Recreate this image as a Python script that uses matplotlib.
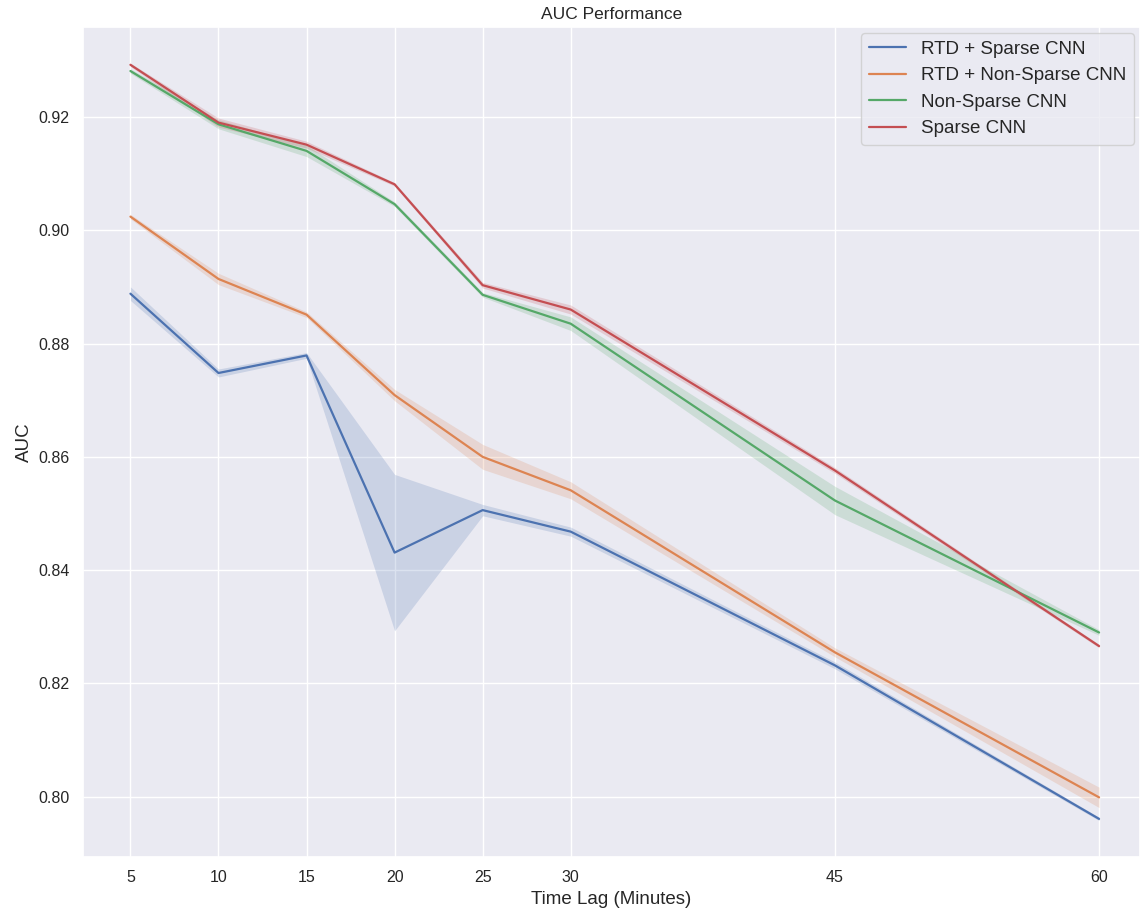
import matplotlib
matplotlib.use("Agg")
import matplotlib.pyplot as plt
import seaborn as sns

# dane
time_lag = [5, 10, 15, 20, 25, 30, 45, 60]

rtd_sparse = [0.8888, 0.8748, 0.8779, 0.8431, 0.8506, 0.8468, 0.8232, 0.7961]
rtd_sparse_err = [0.0012, 0.0007, 0.0005, 0.0138, 0.0010, 0.0008, 0.0006, 0.0003]

rtd_nonsparse = [0.9024, 0.8914, 0.8851, 0.8709, 0.8600, 0.8541, 0.8255, 0.7999]
rtd_nonsparse_err = [0.0004, 0.0010, 0.0005, 0.0010, 0.0022, 0.0015, 0.0008, 0.0018]

nonsparse = [0.9281, 0.9187, 0.9140, 0.9046, 0.8886, 0.8835, 0.8523, 0.8290]
nonsparse_err = [0.0004, 0.0008, 0.0010, 0.0004, 0.0004, 0.0012, 0.0025, 0.0005]

sparse = [0.9292, 0.9190, 0.9151, 0.9081, 0.8903, 0.8860, 0.8576, 0.8266]
sparse_err = [0.0003, 0.0008, 0.0006, 0.0003, 0.0005, 0.0008, 0.0005, 0.0003]

labels = ["RTD + Sparse CNN", "RTD + Non-Sparse CNN", "Non-Sparse CNN", "Sparse CNN"]
series = [(rtd_sparse, rtd_sparse_err), (rtd_nonsparse, rtd_nonsparse_err),
          (nonsparse, nonsparse_err), (sparse, sparse_err)]


def main():
    sns.set_theme(style="darkgrid")
    plt.rcParams['font.family'] = ['Liberation Sans', 'DejaVu Sans']
    colors = sns.color_palette("deep")

    fig, ax = plt.subplots(figsize=(11.43, 9.13), dpi=100)
    fig.subplots_adjust(left=0.0725, right=0.997, top=0.970, bottom=0.0615)

    for (mean, err), label, color in zip(series, labels, colors):
        lo = [m - e for m, e in zip(mean, err)]
        hi = [m + e for m, e in zip(mean, err)]
        ax.plot(time_lag, mean, color=color, linewidth=1.6, label=label)
        ax.fill_between(time_lag, lo, hi, color=color, alpha=0.2, linewidth=0)

    ax.set_xticks(time_lag)
    ax.set_xlim(2.3, 62.3)
    ax.set_ylim(0.7894, 0.9358)
    ax.set_yticks([0.80, 0.82, 0.84, 0.86, 0.88, 0.90, 0.92])
    ax.tick_params(labelsize=11.5)

    ax.set_title("AUC Performance", fontsize=12.5)
    ax.set_xlabel("Time Lag (Minutes)", fontsize=13.5)
    ax.set_ylabel("AUC", fontsize=13.5)
    ax.legend(loc="upper right", fontsize=13.5, borderaxespad=0.3)

    plt.savefig("out.png", dpi=100)


if __name__ == "__main__":
    main()
